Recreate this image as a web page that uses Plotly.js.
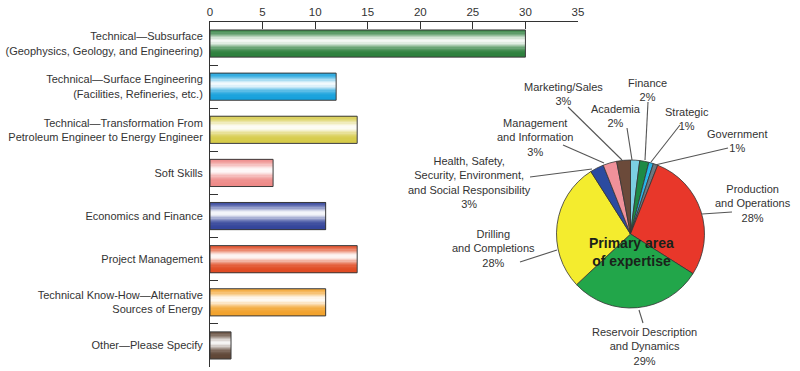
<!DOCTYPE html>
<html>
<head>
<meta charset="utf-8">
<script src="https://cdn.plot.ly/plotly-3.0.1.min.js"></script>
<style>
html,body{margin:0;padding:0;background:#fff;}
#chart{width:800px;height:371px;}
</style>
</head>
<body>
<div id="chart"></div>
<script>
// ---------- DATA ----------
var barCategories = [
  "Technical—Subsurface<br>(Geophysics, Geology, and Engineering)",
  "Technical—Surface Engineering<br>(Facilities, Refineries, etc.)",
  "Technical—Transformation From<br>Petroleum Engineer to Energy Engineer",
  "Soft Skills",
  "Economics and Finance",
  "Project Management",
  "Technical Know-How—Alternative<br>Sources of Energy",
  "Other—Please Specify"
];
var barValues = [30, 12, 14, 6, 11, 14, 11, 2];
var xTickVals = [0, 5, 10, 15, 20, 25, 30, 35];

var pieLabels = [
  "Academia", "Finance", "Strategic", "Government",
  "Production<br>and Operations", "Reservoir Description<br>and Dynamics",
  "Drilling<br>and Completions",
  "Health, Safety,<br>Security, Environment,<br>and Social Responsibility",
  "Management<br>and Information", "Marketing/Sales"
];
var pieValues = [2, 2, 1, 1, 28, 29, 28, 3, 3, 3];
var pieTitle = "Primary area<br>of expertise";

// ---------- STYLE ----------
var W = 800, H = 371;
var FONT = "Liberation Sans, Arial, Helvetica, sans-serif";
var TXT = "#333333";
var barBaseColors = ["#2c7f3c", "#14a0dc", "#d6cb48", "#ee8a88", "#33449a", "#e04a22", "#f2a22c", "#5e4535"];
var pieColors = ["#7ccfe3", "#1e8a45", "#28b5e8", "#6d7880", "#e8372a", "#22a64a", "#f4ec2e", "#2b4ba0", "#f0919a", "#6b4a3a"];

// label centres and leader lines (pixels), same order as pieLabels
var labelCenters = [[616,116],[647,89.5],[687,119],[737,140.5],[753,203],[644,346],[493,248],[469,182],[535,137],[563,94]];
var leaderLines = [
  [627,128,632,160],[648,102,645,160],[680,125,651,162],[728,148,655,165],
  [702,214,732,212],[639,310,643,323],[520,262,557,250],[530,177,592,169],
  [563,145,604,163],[568,107,622,160]
];
var pieBox = {cx:630.5, cy:234, r:74};

function px(x){return x/W;}
function py(y){return 1 - y/H;}
function hexToRgb(h){h=h.replace('#','');return [parseInt(h.substr(0,2),16),parseInt(h.substr(2,2),16),parseInt(h.substr(4,2),16)];}
function mixWhite(h,m){var c=hexToRgb(h);return 'rgb('+c.map(function(v){return Math.round(v+(255-v)*m);}).join(',')+')';}

// ---------- BAR TRACES (stripes for cylinder shading) ----------
var BW = 0.63, N = 22;
var traces = [];
for (var i=0;i<N;i++){
  var t = (i+0.5)/N;
  var m = 0.95*Math.exp(-Math.pow((t-0.4)/0.24,2));
  traces.push({
    type:'bar', orientation:'h',
    y: barCategories, x: barValues,
    width: (i < N-1) ? BW/N + 0.012 : BW/N, offset: -BW/2 + i*BW/N,
    marker:{color: barBaseColors.map(function(c){return mixWhite(c,m);}), line:{width:0}},
    hoverinfo:'skip', showlegend:false, xaxis:'x', yaxis:'y'
  });
}
traces.push({
  type:'bar', orientation:'h',
  y: barCategories, x: barValues,
  width: BW, offset: -BW/2,
  marker:{color:'rgba(0,0,0,0)', line:{color:'#3a3a3a', width:1}},
  hoverinfo:'skip', showlegend:false
});

// ---------- PIE ----------
traces.push({
  type:'pie', values: pieValues, labels: pieLabels,
  marker:{colors: pieColors, line:{color:'#333', width:0.8}},
  sort:false, direction:'clockwise', rotation:0,
  textinfo:'none', hoverinfo:'skip', showlegend:false,
  domain:{x:[px(pieBox.cx-pieBox.r), px(pieBox.cx+pieBox.r)], y:[py(pieBox.cy+pieBox.r), py(pieBox.cy-pieBox.r)]}
});

// ---------- ANNOTATIONS & SHAPES ----------
var annotations = pieLabels.map(function(lab,k){
  return {
    text: lab + '<br>' + pieValues[k] + '%',
    x: px(labelCenters[k][0]), y: py(labelCenters[k][1]),
    xref:'paper', yref:'paper', xanchor:'center', yanchor:'middle',
    showarrow:false, align:'center',
    font:{family:FONT, size:11, color:TXT}
  };
});
annotations.push({
  text: '<b>'+pieTitle+'</b>',
  x: px(631), y: py(252), xref:'paper', yref:'paper',
  xanchor:'center', yanchor:'middle', showarrow:false, align:'center',
  font:{family:FONT, size:14, color:'#1a221a'}
});
var shapes = leaderLines.map(function(l){
  return {type:'line', xref:'paper', yref:'paper',
    x0:px(l[0]), y0:py(l[1]), x1:px(l[2]), y1:py(l[3]),
    line:{color:'#555', width:1.1}};
});

var layout = {
  width:W, height:H,
  margin:{l:0,r:0,t:0,b:0},
  paper_bgcolor:'#fff', plot_bgcolor:'rgba(0,0,0,0)',
  barmode:'overlay', bargap:0,
  font:{family:FONT, size:11, color:TXT},
  showlegend:false,
  xaxis:{
    domain:[px(210), px(578)], range:[0,35], side:'top',
    tickvals:xTickVals, ticks:'inside', ticklen:7, tickcolor:'#333', tickwidth:1,
    showline:true, linecolor:'#333', linewidth:1, showgrid:false, zeroline:false,
    tickfont:{family:FONT, size:11.5, color:TXT}, fixedrange:true
  },
  yaxis:{
    domain:[py(367), py(22)], type:'category', range:[7.5,-0.5],
    ticks:'inside', tickson:'boundaries', ticklen:8, tickcolor:'#333', tickwidth:1,
    ticklabelstandoff:4,
    showline:true, linecolor:'#333', linewidth:1, showgrid:false, zeroline:false,
    tickfont:{family:FONT, size:11, color:TXT}, fixedrange:true
  },
  annotations:annotations,
  shapes:shapes
};

Plotly.newPlot('chart', traces, layout, {displayModeBar:false, staticPlot:true});
</script>
</body>
</html>
